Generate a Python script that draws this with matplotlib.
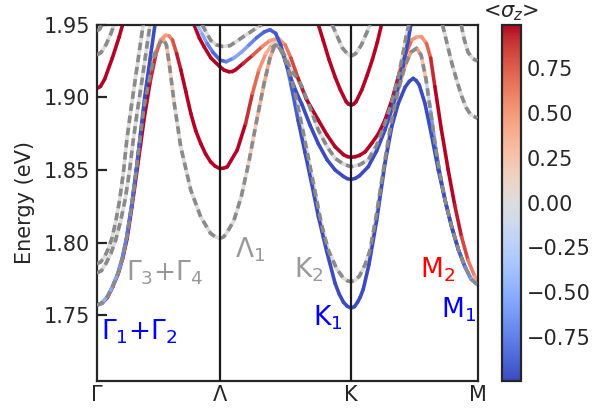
import numpy as np
import matplotlib
matplotlib.use("Agg")
import matplotlib.pyplot as plt
from matplotlib.collections import LineCollection
from matplotlib.colors import Normalize
from matplotlib.cm import ScalarMappable

# ---------------------------------------------------------------- path
kpath_ticks = [0.0, 0.323, 0.668, 1.0]
kpath_labels = ["Γ", "Λ", "K", "M"]

# ---------------------------------------------------------------- solid bands (k, E, <sigma_z>)
# lowest band: Γ -> Λ -> K1 -> M1
k_A = [0.000, 0.014, 0.028, 0.042, 0.056, 0.068, 0.080, 0.092, 0.104, 0.115, 0.125, 0.140, 0.155, 0.168, 0.181, 0.190, 0.199, 0.210, 0.221, 0.234, 0.247, 0.260, 0.273, 0.286, 0.299, 0.311, 0.323,
       0.333, 0.343, 0.369, 0.391, 0.409, 0.426, 0.444, 0.461, 0.474, 0.485, 0.497, 0.510, 0.529, 0.547, 0.565, 0.582, 0.604, 0.626, 0.637, 0.648, 0.658, 0.668,
       0.677, 0.685, 0.692, 0.700, 0.715, 0.735, 0.757, 0.775, 0.792, 0.810, 0.821, 0.831, 0.839, 0.847, 0.862, 0.880, 0.897, 0.915, 0.932, 0.950, 0.967, 0.983, 1.000]
E_A = [1.757, 1.7583, 1.7622, 1.7695, 1.7783, 1.789, 1.803, 1.824, 1.846, 1.867, 1.886, 1.910, 1.929, 1.9395, 1.9428, 1.9422, 1.9394, 1.930, 1.9188, 1.904, 1.889, 1.877, 1.8683, 1.861, 1.8556, 1.8526, 1.851,
       1.8512, 1.8522, 1.8637, 1.882, 1.9027, 1.9188, 1.930, 1.9365, 1.939, 1.934, 1.924, 1.909, 1.884, 1.862, 1.840, 1.818, 1.794, 1.772, 1.7645, 1.759, 1.7562, 1.755,
       1.756, 1.759, 1.7625, 1.768, 1.785, 1.815, 1.8545, 1.880, 1.8958, 1.907, 1.911, 1.913, 1.9115, 1.9085, 1.8958, 1.873, 1.850, 1.829, 1.811, 1.795, 1.7834, 1.775, 1.771]
s_A = [1.0] * 12 + [0.85, 0.6, 0.45, 0.5, 0.7, 0.9] + [1.0] * 9 + \
      [1.0, 1.0, 1.0, 1.0, 0.8, 0.6, 0.45, 0.3, 0.0, -0.4, -0.7, -0.85, -1.0, -1.0, -1.0, -1.0, -1.0, -1.0, -1.0, -1.0, -1.0, -1.0] + \
      [-1.0] * 20 + [-0.8, -0.6, -0.45]

# second band at Γ (spin partner of the lowest one)
k_B = [0.000, 0.014, 0.028, 0.042, 0.056, 0.068, 0.079, 0.092, 0.104, 0.115, 0.126, 0.140, 0.153]
E_B = [1.757, 1.7585, 1.7628, 1.770, 1.779, 1.790, 1.804, 1.826, 1.850, 1.875, 1.900, 1.926, 1.950]
s_B = [-0.45, -0.47, -0.5, -0.55, -0.6, -0.7, -0.8, -0.85, -0.9, -0.95, -1.0, -1.0, -1.0]

# upper red band at Γ
k_C1 = [0.000, 0.010, 0.021, 0.041, 0.059, 0.068]
E_C1 = [1.906, 1.9075, 1.9125, 1.927, 1.9415, 1.950]
s_C1 = [1.0, 1.0, 1.0, 1.0, 1.0, 1.0]

# red band: Λ -> K -> M2
k_C2 = [0.2555, 0.270, 0.282, 0.300, 0.3238, 0.335, 0.347, 0.356, 0.365, 0.385, 0.410, 0.435, 0.455, 0.477, 0.495, 0.510, 0.529, 0.550, 0.582, 0.605, 0.626, 0.648, 0.658, 0.668,
        0.679, 0.690, 0.705, 0.722, 0.740, 0.757, 0.775, 0.792, 0.810, 0.827, 0.840, 0.853, 0.866, 0.877, 0.888, 0.905, 0.923, 0.940, 0.958, 0.975, 0.993, 1.000]
E_C2 = [1.950, 1.9405, 1.9348, 1.927, 1.921, 1.9186, 1.9176, 1.9177, 1.919, 1.9234, 1.929, 1.935, 1.939, 1.9406, 1.936, 1.927, 1.913, 1.899, 1.8843, 1.874, 1.866, 1.8605, 1.8592, 1.8587,
        1.8591, 1.860, 1.8625, 1.8683, 1.875, 1.8843, 1.898, 1.9141, 1.929, 1.9394, 1.9415, 1.9417, 1.937, 1.927, 1.9073, 1.878, 1.850, 1.826, 1.804, 1.788, 1.7765, 1.773]
s_C2 = [1.0, 1.0, 1.0, 1.0, 1.0, 1.0, 1.0, 1.0, 1.0, 1.0, 0.85, 0.65, 0.5, 0.45, 0.55, 0.75, 0.9, 1.0, 1.0, 1.0, 1.0, 1.0, 1.0, 1.0,
        1.0, 1.0, 1.0, 1.0, 1.0, 1.0, 1.0, 0.9, 0.8, 0.6, 0.45, 0.45, 0.6, 0.85, 1.0, 1.0, 1.0, 1.0, 0.9, 0.75, 0.5, 0.35]

# blue band: Λ -> K (upper)
k_D = [0.264, 0.277, 0.290, 0.305, 0.3238, 0.340, 0.360, 0.380, 0.400, 0.420, 0.440, 0.455, 0.470, 0.483, 0.495, 0.510, 0.525,
       0.539, 0.560, 0.582, 0.605, 0.626, 0.648, 0.658, 0.668, 0.679, 0.690, 0.713, 0.735, 0.757, 0.775, 0.792, 0.805, 0.818, 0.825]
E_D = [1.950, 1.9435, 1.9371, 1.931, 1.9256, 1.9245, 1.927, 1.931, 1.936, 1.941, 1.945, 1.9465, 1.944, 1.936, 1.925, 1.913, 1.903,
       1.895, 1.881, 1.868, 1.857, 1.850, 1.8455, 1.844, 1.8435, 1.8442, 1.846, 1.8522, 1.863, 1.8775, 1.892, 1.9073, 1.922, 1.9394, 1.950]
s_D = [-0.3, -0.45, -0.65, -0.85, -0.9, -0.85, -0.6, -0.5, -0.65, -0.8, -0.9, -0.9, -0.9] + [-1.0] * 22

# red band at the top of K
k_RK = [0.582, 0.595, 0.610, 0.626, 0.640, 0.655, 0.661, 0.668, 0.675, 0.681, 0.696, 0.710, 0.724, 0.737, 0.748]
E_RK = [1.950, 1.939, 1.926, 1.914, 1.905, 1.897, 1.8954, 1.8946, 1.8954, 1.897, 1.905, 1.915, 1.926, 1.938, 1.950]
s_RK = [1.0] * 15

# ---------------------------------------------------------------- dashed reference bands (k, E, underlying <sigma_z>)
k_L = [0.000, 0.014, 0.028, 0.042, 0.056, 0.068, 0.079, 0.092, 0.104, 0.115, 0.124, 0.140, 0.153, 0.165, 0.175, 0.183, 0.192, 0.203, 0.2206, 0.247, 0.273, 0.299, 0.311, 0.323,
       0.332, 0.340, 0.360, 0.380, 0.400, 0.420, 0.440, 0.455, 0.468, 0.480, 0.495, 0.510, 0.525, 0.540, 0.556, 0.575, 0.590, 0.608, 0.630, 0.648, 0.658, 0.668,
       0.679, 0.690, 0.705, 0.718, 0.735, 0.757, 0.775, 0.792, 0.810, 0.825, 0.840, 0.852, 0.865, 0.877, 0.890, 0.900, 0.915, 0.932, 0.950, 0.967, 0.983, 1.000]
E_L = [1.757, 1.7585, 1.7628, 1.770, 1.779, 1.790, 1.804, 1.826, 1.850, 1.874, 1.893, 1.915, 1.930, 1.937, 1.940, 1.936, 1.920, 1.897, 1.866, 1.8362, 1.8178, 1.8064, 1.8041, 1.803,
       1.8037, 1.806, 1.815, 1.832, 1.856, 1.884, 1.910, 1.927, 1.936, 1.934, 1.926, 1.914, 1.898, 1.879, 1.858, 1.833, 1.813, 1.795, 1.782, 1.7755, 1.7738, 1.7731,
       1.7742, 1.777, 1.785, 1.795, 1.820, 1.857, 1.885, 1.905, 1.922, 1.931, 1.9337, 1.929, 1.912, 1.890, 1.865, 1.849, 1.829, 1.811, 1.795, 1.7834, 1.775, 1.771]
s_L = [-0.45, -0.47, -0.5, -0.55, -0.6, -0.7, -0.8, -0.85, -0.9, -0.6, -0.2, 0.2, 0.4, 0.45, 0.45, 0.4, 0.2, 0.05, 0.0, 0.0, 0.0, 0.0, 0.0, 0.0,
       0.0, 0.0, 0.0, 0.0, 0.1, 0.3, 0.4, 0.45, 0.4, 0.25, 0.05, 0.0, 0.0, 0.0, 0.0, 0.0, 0.0, 0.0, 0.0, 0.0, 0.0, 0.0,
       0.0, 0.0, 0.0, 0.0, 0.05, 0.1, 0.2, 0.35, 0.45, 0.5, 0.5, 0.45, 0.1, -0.4, -0.8, -0.9, -1.0, -1.0, -1.0, -0.8, -0.6, -0.45]

k_F = [0.460, 0.469, 0.480, 0.4945, 0.510, 0.525, 0.539, 0.560, 0.582, 0.605, 0.626, 0.648, 0.668, 0.690, 0.713, 0.735, 0.757, 0.775, 0.792, 0.805, 0.814, 0.820]
E_F = [1.934, 1.936, 1.935, 1.9284, 1.919, 1.9135, 1.9073, 1.893, 1.8775, 1.866, 1.858, 1.854, 1.8522, 1.8535, 1.857, 1.867, 1.882, 1.897, 1.914, 1.931, 1.944, 1.950]
s_F = [0.35, 0.35, 0.3, 0.1] + [0.0] * 18

k_Le = [0.277, 0.290, 0.300, 0.315, 0.330, 0.350, 0.370, 0.385, 0.410, 0.433]
E_Le = [1.950, 1.9435, 1.939, 1.936, 1.935, 1.9355, 1.939, 1.9417, 1.946, 1.950]

k_GK = [0.618, 0.630, 0.645, 0.658, 0.668, 0.680, 0.695, 0.710, 0.718]
E_GK = [1.950, 1.943, 1.934, 1.930, 1.9284, 1.930, 1.936, 1.945, 1.950]

k_G1 = [0.000, 0.012, 0.024, 0.036, 0.046]
E_G1 = [1.929, 1.931, 1.936, 1.943, 1.950]
k_G2 = [0.000, 0.008, 0.014]
E_G2 = [1.9455, 1.947, 1.950]
k_G3 = [0.000, 0.010, 0.020, 0.030, 0.040, 0.050, 0.060, 0.070, 0.079, 0.090, 0.100, 0.111, 0.122]
E_G3 = [1.7855, 1.7866, 1.790, 1.7955, 1.803, 1.8145, 1.829, 1.848, 1.8705, 1.892, 1.910, 1.930, 1.950]
k_G4 = [0.000, 0.0125, 0.025, 0.0375, 0.050, 0.0625, 0.075, 0.086, 0.096, 0.107, 0.118, 0.129, 0.140]
E_G4 = [1.779, 1.7807, 1.786, 1.7927, 1.802, 1.8145, 1.830, 1.849, 1.8705, 1.891, 1.910, 1.930, 1.950]

k_M1 = [0.908, 0.920, 0.932, 0.945, 0.958, 0.970, 0.982, 1.000]
E_M1 = [1.950, 1.937, 1.924, 1.912, 1.901, 1.893, 1.888, 1.8855]
k_M2 = [0.957, 0.965, 0.975, 0.988, 1.000]
E_M2 = [1.950, 1.940, 1.931, 1.9265, 1.925]

# ---------------------------------------------------------------- state labels
state_text = [r"$\Gamma_3$+$\Gamma_4$", r"$\Gamma_1$+$\Gamma_2$", r"$\Lambda_1$", r"K$_2$", r"K$_1$", r"M$_2$", r"M$_1$"]
state_k = [0.177, 0.111, 0.403, 0.5575, 0.607, 0.894, 0.949]
state_E = [1.779, 1.7384, 1.7949, 1.7811, 1.7481, 1.7811, 1.7536]
state_col = ["#999999", "#0000ff", "#999999", "#999999", "#0000ff", "#ff0000", "#0000ff"]

cbar_ticks = [-0.75, -0.50, -0.25, 0.00, 0.25, 0.50, 0.75]
y_ticks = [1.75, 1.80, 1.85, 1.90, 1.95]

# ---------------------------------------------------------------- drawing
cmap = plt.get_cmap("coolwarm")
norm = Normalize(vmin=-0.995, vmax=0.995)
ink = "#262626"
LW = 2.6


def colored_band(ax, k, e, s, z):
    pts = np.column_stack([k, e])
    segs = np.stack([pts[:-1], pts[1:]], axis=1)
    s = np.asarray(s, dtype=float)
    lc = LineCollection(segs, cmap=cmap, norm=norm, linewidths=LW,
                        capstyle="round", joinstyle="round", zorder=z)
    lc.set_array(0.5 * (s[:-1] + s[1:]))
    ax.add_collection(lc)


def dashed_band(ax, k, e, s=None):
    if s is None:
        s = [0.0] * len(k)
    colored_band(ax, k, e, s, z=1)
    ax.plot(k, e, color="#8a8a8a", lw=LW, ls=(0, (2.1, 1.3)),
            dash_capstyle="butt", zorder=3)


fig = plt.figure(figsize=(5.94, 4.11), dpi=100)
ax = fig.add_axes([0.1628, 0.0737, 0.6411, 0.8664])
cax = fig.add_axes([0.8451, 0.0737, 0.032, 0.8664])

# dashed reference bands
for k, e in [(k_Le, E_Le), (k_GK, E_GK), (k_G1, E_G1), (k_G2, E_G2),
             (k_G3, E_G3), (k_G4, E_G4), (k_M1, E_M1), (k_M2, E_M2)]:
    dashed_band(ax, k, e)
dashed_band(ax, k_L, E_L, s_L)
dashed_band(ax, k_F, E_F, s_F)

# spin-resolved bands
colored_band(ax, k_A, E_A, s_A, z=2)
colored_band(ax, k_B, E_B, s_B, z=2.1)
colored_band(ax, k_C1, E_C1, s_C1, z=2)
colored_band(ax, k_C2, E_C2, s_C2, z=2)
colored_band(ax, k_D, E_D, s_D, z=2)
colored_band(ax, k_RK, E_RK, s_RK, z=2)

for kx in kpath_ticks[1:-1]:
    ax.axvline(kx, color="#1a1a1a", lw=1.6, zorder=5)

for t, kx, ey, c in zip(state_text, state_k, state_E, state_col):
    ax.text(kx, ey, t, color=c, fontsize=19, ha="center", va="center", zorder=6)

ax.set_xlim(0, 1)
ax.set_ylim(1.705, 1.95)
ax.set_xticks(kpath_ticks)
ax.set_xticklabels(kpath_labels)
ax.set_yticks(y_ticks)
ax.set_yticklabels([f"{v:.2f}" for v in y_ticks])
ax.tick_params(axis="y", direction="in", length=7, width=1.6, color=ink,
               labelsize=15, labelcolor=ink, pad=5)
ax.tick_params(axis="x", length=0, labelsize=15, labelcolor=ink, pad=3)
ax.set_ylabel("Energy (eV)", fontsize=15, color=ink, labelpad=6)
for sp in ax.spines.values():
    sp.set_color(ink)
    sp.set_linewidth(1.6)

cb = fig.colorbar(ScalarMappable(norm=norm, cmap=cmap), cax=cax)
cb.set_ticks(cbar_ticks)
cb.set_ticklabels([f"{v:.2f}".replace("-", "\u2212") for v in cbar_ticks])
cb.outline.set_edgecolor(ink)
cb.outline.set_linewidth(1.6)
cax.tick_params(length=0, labelsize=15, labelcolor=ink, pad=4)
cax.set_title(r"<$\sigma_z$>", fontsize=15, color=ink, pad=5)

fig.savefig("out.png", dpi=100)
